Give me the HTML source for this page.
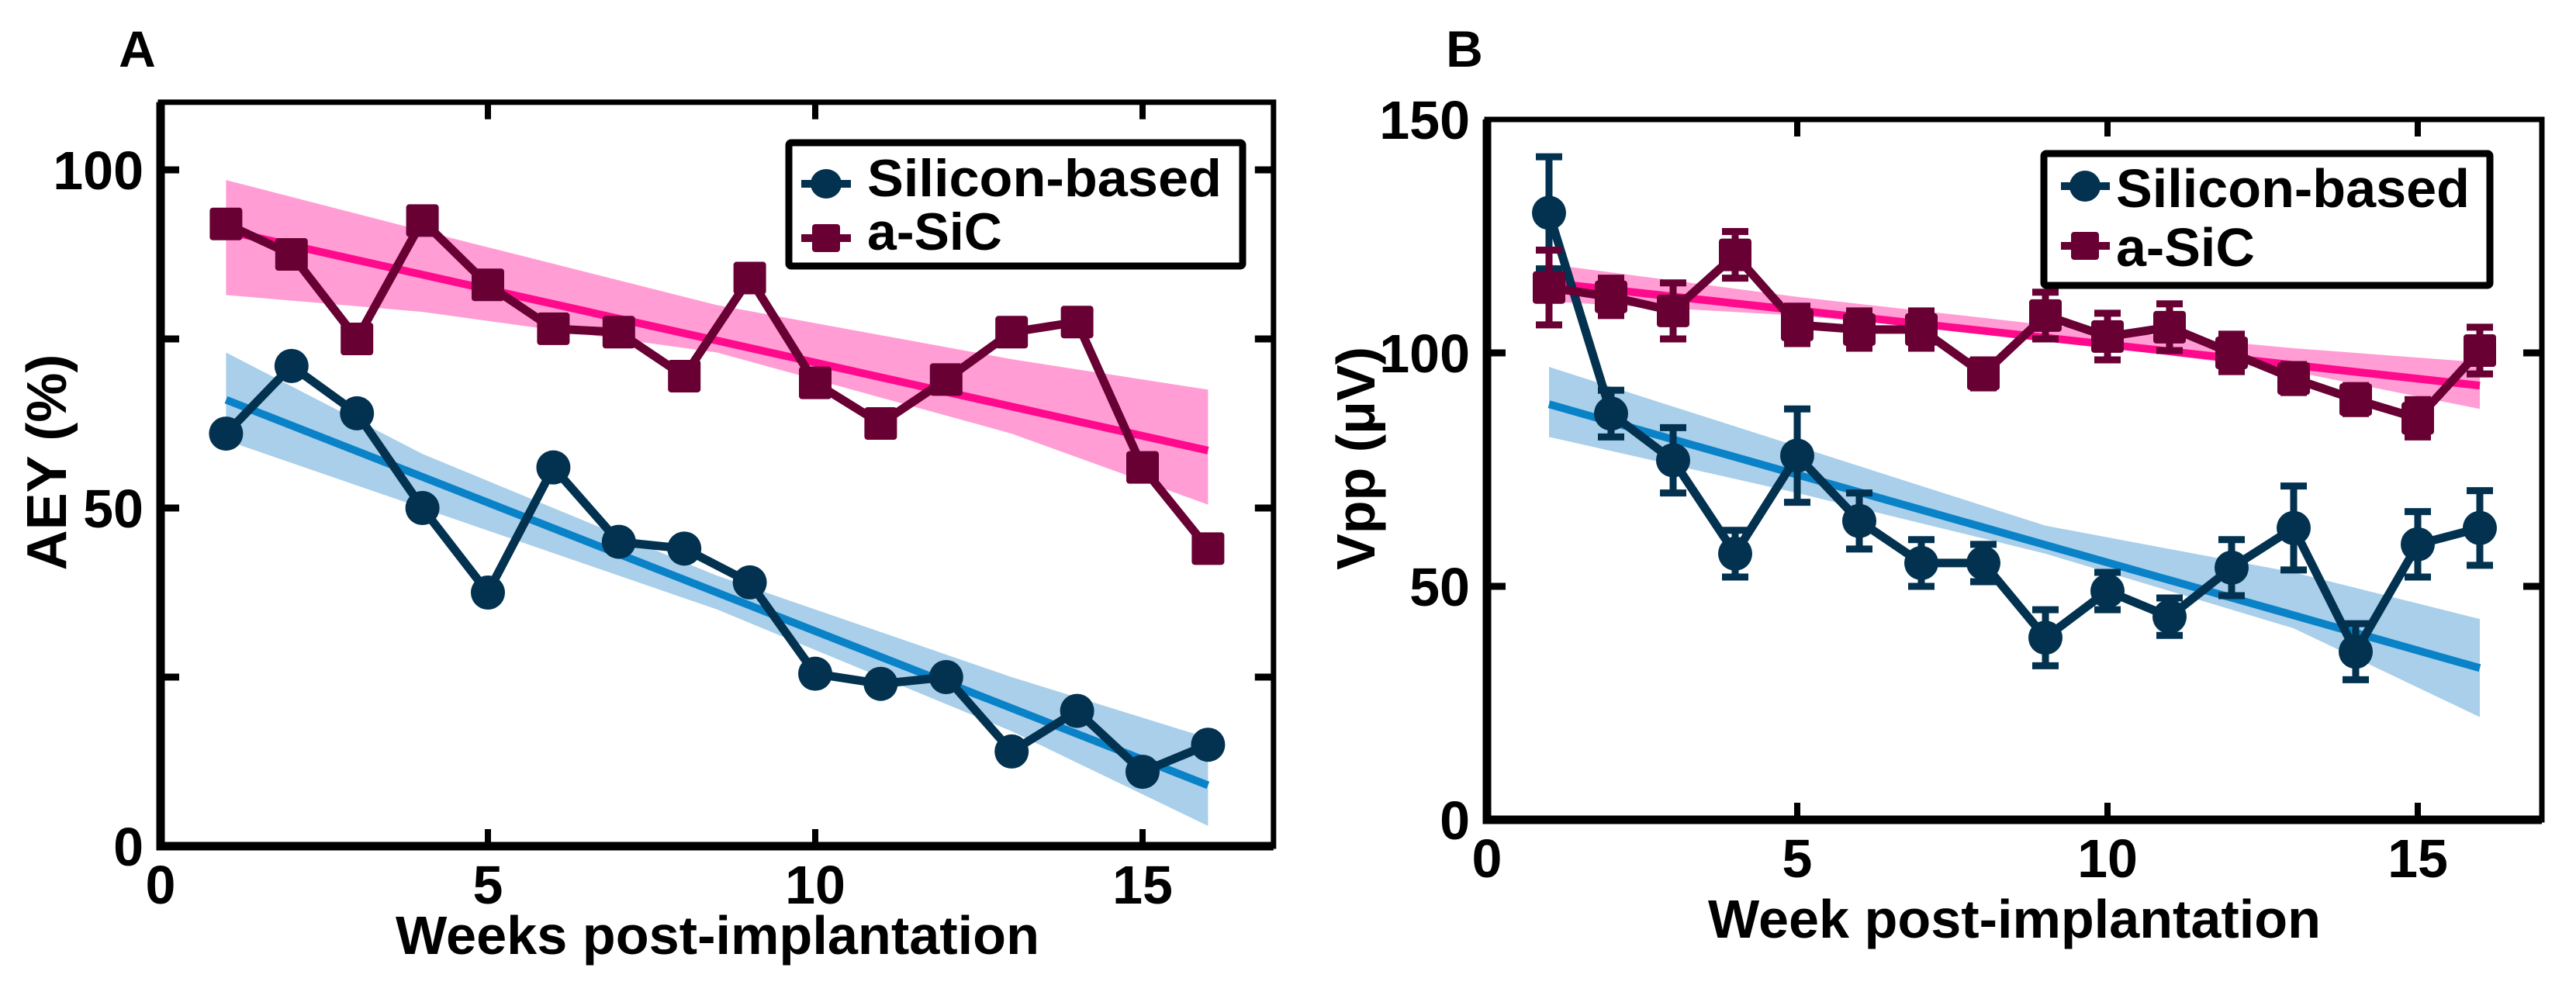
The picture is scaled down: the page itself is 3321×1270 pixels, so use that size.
<!DOCTYPE html>
<html>
<head>
<meta charset="utf-8">
<style>
html,body{margin:0;padding:0;background:#fff;}
svg{display:block;}
text{font-family:"Liberation Sans",Arial,sans-serif;font-weight:bold;fill:#000;}
</style>
</head>
<body>
<svg id="fig" width="3321" height="1270" viewBox="0 0 3321 1270" xmlns="http://www.w3.org/2000/svg">
  <g id="panelA"></g>
  <g id="panelB"></g>
</svg>
<script>
// ---------- data ----------
const weeks = [1,2,3,4,5,6,7,8,9,10,11,12,13,14,15,16];
// Panel A (AEY %)
const aeySilicon = [61,71,64,50,37.5,56,45,44,39,25.5,24,25,14,20,11,15];
const aeySic = [92,87.5,75,92.5,83,76.5,76,69.5,84,68.5,62.5,69,76,77.5,56,44];
const aeyFitX = [1,16];
const aeyFitSilicon = [66,9];
const aeyFitSic = [91,58.5];
const aeyBandX = [1,4,8.5,13,16];
const aeyBandSiliconLo = [60,50,35,17,3];
const aeyBandSiliconHi = [73,58,40,25,16];
const aeyBandSicLo = [81.5,79,73,61,50.5];
const aeyBandSicHi = [98.5,91,80,72,67.5];
const aeyYTicks = [0,25,50,75,100];
const aeyYLabels = ["0","","50","","100"];
// Panel B (Vpp µV)
const vppSilicon = [130,87,77,57,78,64,55,55,39,49,43.5,54,62.5,36,59,62.5];
const vppSiliconErr = [12,5,7,5,10,6,5,4,6,4,4,6,9,6,7,8];
const vppSic = [114,112,109,121,106,105,105,95.5,108,103.5,105.5,100,94.5,90,86,100.5];
const vppSicErr = [8,4,6,5,4,4,4,3,5,5,5,4,3,3,4,5];
const vppFitX = [1,16];
const vppFitSilicon = [89,32.5];
const vppFitSic = [115,93];
const vppBandX = [1,5,9,13,16];
const vppBandSiliconLo = [82,70,57,41,22];
const vppBandSiliconHi = [97,80,63,53,43];
const vppBandSicLo = [111,108,103,96,88];
const vppBandSicHi = [119,112,106,101,98];
const vppYTicks = [0,50,100,150];
const vppYLabels = ["0","50","100","150"];
const xTicks = [0,5,10,15];
const xTickLabels = ["0","5","10","15"];

const C_SI="#023250", C_SIC="#680033", C_FITB="#0a82c8", C_BANDB="#a9cfea", C_FITP="#ff0a8c", C_BANDP="#ff9dd4";
const NS="http://www.w3.org/2000/svg";
function mk(parent,tag,attrs){const e=document.createElementNS(NS,tag);for(const k in attrs)e.setAttribute(k,attrs[k]);parent.appendChild(e);return e;}

function drawPanel(g,cfg){
  const X=v=>cfg.x0+(v)*cfg.xs;
  const Y=v=>cfg.y0-(v)*cfg.ys;
  const L=X(0),R=X(17),T=Y(cfg.ymax),B=Y(0);
  function band(bx,lo,hi,col,name){
    let d="M"+bx.map((x,i)=>X(x)+","+Y(hi[i])).join(" L");
    d+=" L"+bx.slice().reverse().map((x,i)=>X(x)+","+Y(lo[bx.length-1-i])).join(" L")+" Z";
    const p=mk(g,"path",{d:d,fill:col,stroke:"none"});
    
    
  }
  band(cfg.bandX,cfg.bSiLo,cfg.bSiHi,C_BANDB,"silicon-confidence-band");
  band(cfg.bandX,cfg.bSicLo,cfg.bSicHi,C_BANDP,"sic-confidence-band");
  function fit(fx,fy,col,name){
    const l=mk(g,"line",{x1:X(fx[0]),y1:Y(fy[0]),x2:X(fx[1]),y2:Y(fy[1]),stroke:col,"stroke-width":10});
    
    
  }
  fit(cfg.fitX,cfg.fitSi,C_FITB,"silicon-fit-line");
  fit(cfg.fitX,cfg.fitSic,C_FITP,"sic-fit-line");
  function series(vals,err,col,shape,name){
    const sg=mk(g,"g",{});
    
    
    if(err){
      vals.forEach((v,i)=>{
        const x=X(weeks[i]),y1=Y(v+err[i]),y2=Y(v-err[i]);
        const eb=mk(sg,"path",{d:`M${x},${y1} L${x},${y2} M${x-17},${y1} L${x+17},${y1} M${x-17},${y2} L${x+17},${y2}`,stroke:col,"stroke-width":9,fill:"none"});
        
        
      });
    }
    const pl=mk(sg,"polyline",{points:vals.map((v,i)=>X(weeks[i])+","+Y(v)).join(" "),fill:"none",stroke:col,"stroke-width":11,"stroke-linejoin":"round"});
    
    
    vals.forEach((v,i)=>{
      const x=X(weeks[i]),y=Y(v);
      let m;
      if(shape==="circle") m=mk(sg,"ellipse",{cx:x,cy:y,rx:22,ry:22,fill:col});
      else m=mk(sg,"rect",{x:x-21,y:y-21,width:42,height:42,rx:4,fill:col});
      
      
    });
  }
  series(cfg.si,cfg.siErr,C_SI,"circle","silicon-series");
  series(cfg.sic,cfg.sicErr,C_SIC,"square","sic-series");
  const fr=mk(g,"rect",{x:L,y:T,width:R-L,height:B-T,fill:"none",stroke:"#000","stroke-width":7});
  
  
  const ax=mk(g,"path",{d:`M${L},${T} L${L},${B} L${R},${B}`,fill:"none",stroke:"#000","stroke-width":11});
  
  
  xTicks.forEach((t,i)=>{
    if(t>0){
      const tk=mk(g,"path",{d:`M${X(t)},${B} L${X(t)},${B-22} M${X(t)},${T} L${X(t)},${T+22}`,stroke:"#000","stroke-width":8});
      
      
    }
    const tl=mk(g,"text",{x:X(t),y:B+74,"text-anchor":"middle","font-size":70});
    tl.textContent=xTickLabels[i];
    
    
  });
  cfg.yTicks.forEach((t,i)=>{
    if(t>0 && t<cfg.ymax){
      const tk=mk(g,"path",{d:`M${L},${Y(t)} L${L+24},${Y(t)} M${R},${Y(t)} L${R-24},${Y(t)}`,stroke:"#000","stroke-width":9});
      
      
    }
    if(cfg.yLabels[i]){
      const tl=mk(g,"text",{x:L-22,y:Y(t)+25,"text-anchor":"end","font-size":70});
      tl.textContent=cfg.yLabels[i];
      
      
    }
  });
}

drawPanel(document.getElementById("panelA"),{x0:207,xs:84.4,y0:1091,ys:8.72,ymax:110,
  si:aeySilicon,sic:aeySic,siErr:null,sicErr:null,fitX:aeyFitX,fitSi:aeyFitSilicon,fitSic:aeyFitSic,
  bandX:aeyBandX,bSiLo:aeyBandSiliconLo,bSiHi:aeyBandSiliconHi,bSicLo:aeyBandSicLo,bSicHi:aeyBandSicHi,
  yTicks:aeyYTicks,yLabels:aeyYLabels});
drawPanel(document.getElementById("panelB"),{x0:1917,xs:80,y0:1057,ys:6.02,ymax:150,
  si:vppSilicon,sic:vppSic,siErr:vppSiliconErr,sicErr:vppSicErr,fitX:vppFitX,fitSi:vppFitSilicon,fitSic:vppFitSic,
  bandX:vppBandX,bSiLo:vppBandSiliconLo,bSiHi:vppBandSiliconHi,bSicLo:vppBandSicLo,bSicHi:vppBandSicHi,
  yTicks:vppYTicks,yLabels:vppYLabels});
</script>
<svg style="position:absolute;left:0;top:0" width="3321" height="1270" viewBox="0 0 3321 1270" xmlns="http://www.w3.org/2000/svg">
  <text x="177" y="86" text-anchor="middle" font-size="66">A</text>
  <text x="1888" y="86" text-anchor="middle" font-size="66">B</text>
  <text x="925" y="1230" text-anchor="middle" font-size="70" textLength="830" lengthAdjust="spacingAndGlyphs">Weeks post-implantation</text>
  <text x="2597" y="1209" text-anchor="middle" font-size="70" textLength="790" lengthAdjust="spacingAndGlyphs">Week post-implantation</text>
  <text transform="translate(85,596) rotate(-90)" text-anchor="middle" font-size="72">AEY (%)</text>
  <text transform="translate(1772,591) rotate(-90)" text-anchor="middle" font-size="70">Vpp (μV)</text>
  <g>
    <rect x="1017" y="184" width="585" height="159" fill="#fff" stroke="#000" stroke-width="9" rx="3"/>
    <g>
      <line x1="1033" y1="237" x2="1097" y2="237" stroke="#023250" stroke-width="10"/>
      <ellipse cx="1065" cy="237" rx="20" ry="19" fill="#023250"/>
      <text x="1118" y="253" font-size="68" textLength="457" lengthAdjust="spacingAndGlyphs">Silicon-based</text>
    </g>
    <g>
      <line x1="1033" y1="307" x2="1097" y2="307" stroke="#680033" stroke-width="10"/>
      <rect x="1047" y="289" width="36" height="36" rx="4" fill="#680033"/>
      <text x="1118" y="322" font-size="68">a-SiC</text>
    </g>
  </g>
  <g>
    <rect x="2635" y="198" width="575" height="170" fill="#fff" stroke="#000" stroke-width="9" rx="3"/>
    <g>
      <line x1="2657" y1="240" x2="2720" y2="240" stroke="#023250" stroke-width="10"/>
      <ellipse cx="2688" cy="240" rx="20" ry="20" fill="#023250"/>
      <text x="2728" y="267" font-size="70" textLength="456" lengthAdjust="spacingAndGlyphs">Silicon-based</text>
    </g>
    <g>
      <line x1="2657" y1="317" x2="2720" y2="317" stroke="#680033" stroke-width="10"/>
      <rect x="2670" y="299" width="36" height="36" rx="4" fill="#680033"/>
      <text x="2728" y="343" font-size="70">a-SiC</text>
    </g>
  </g>
</svg>
</body>
</html>
